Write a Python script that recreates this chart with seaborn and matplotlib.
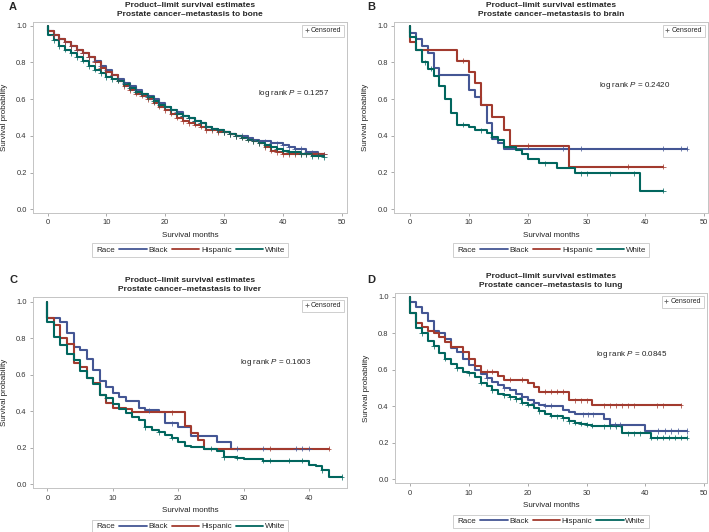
import numpy as np
import pandas as pd
import seaborn as sns
import matplotlib.pyplot as plt
from matplotlib.lines import Line2D

sns.set_style("white")
plt.rcParams['font.family'] = ['Liberation Sans', 'DejaVu Sans']
plt.rcParams['mathtext.fontset'] = 'custom'
plt.rcParams['mathtext.rm'] = 'Liberation Sans'
plt.rcParams['mathtext.it'] = 'Liberation Sans:italic'

RACES = ['Black', 'Hispanic', 'White']
COLORS = {'Black': '#445694', 'Hispanic': '#A23A2E', 'White': '#01665E'}

# A - metastasis to bone (monthly steps)
a_months = list(range(48))
a_black = [0.97, 0.95, 0.93, 0.91, 0.89, 0.87, 0.85, 0.83, 0.81, 0.78,
           0.76, 0.73, 0.71, 0.69, 0.67, 0.65, 0.63, 0.62, 0.60, 0.58,
           0.56, 0.54, 0.53, 0.51, 0.50, 0.48, 0.47, 0.45, 0.44, 0.43,
           0.42, 0.41, 0.40, 0.40, 0.39, 0.38, 0.37, 0.37, 0.36, 0.36,
           0.35, 0.34, 0.33, 0.33, 0.31, 0.31, 0.30, 0.30]
a_hisp = [0.97, 0.95, 0.93, 0.91, 0.89, 0.87, 0.85, 0.83, 0.80, 0.77,
          0.75, 0.73, 0.70, 0.67, 0.65, 0.63, 0.62, 0.60, 0.58, 0.56,
          0.54, 0.52, 0.50, 0.48, 0.47, 0.46, 0.45, 0.43, 0.43, 0.42,
          0.42, 0.41, 0.40, 0.39, 0.38, 0.37, 0.36, 0.34, 0.32, 0.31,
          0.30, 0.30, 0.30, 0.30, 0.30, 0.30, 0.30, 0.30]
a_white = [0.95, 0.92, 0.89, 0.87, 0.85, 0.83, 0.81, 0.78, 0.76, 0.74,
           0.72, 0.71, 0.70, 0.68, 0.66, 0.64, 0.63, 0.61, 0.59, 0.57,
           0.56, 0.54, 0.52, 0.51, 0.50, 0.48, 0.47, 0.45, 0.44, 0.43,
           0.42, 0.41, 0.40, 0.39, 0.38, 0.37, 0.36, 0.35, 0.34, 0.33,
           0.32, 0.31, 0.31, 0.30, 0.30, 0.29, 0.29, 0.285]
a_cens = list(range(1, 48))

# B - metastasis to brain
b_black_t = [0, 1, 2, 3, 4, 5, 10, 11, 12, 13, 14, 15, 16, 47]
b_black_s = [0.96, 0.93, 0.89, 0.85, 0.77, 0.73, 0.65, 0.61, 0.565, 0.47, 0.38, 0.36, 0.33, 0.33]
b_hisp_t = [0, 1, 8, 10, 11, 12, 14, 16, 17, 27, 43]
b_hisp_s = [0.91, 0.865, 0.81, 0.75, 0.69, 0.565, 0.50, 0.43, 0.345, 0.23, 0.23]
b_white_t = [0, 1, 2, 3, 4, 5, 6, 7, 8, 10, 11, 13, 14, 15, 16, 18, 19, 20, 22, 25, 28, 39, 43]
b_white_s = [0.94, 0.865, 0.80, 0.765, 0.725, 0.67, 0.60, 0.525, 0.46, 0.445, 0.43, 0.413,
             0.395, 0.375, 0.34, 0.32, 0.30, 0.275, 0.25, 0.225, 0.195, 0.10, 0.10]
b_black_c = [26, 29, 43, 46, 47]
b_hisp_c = [9, 20, 37, 43]
b_white_c = [2.5, 3.5, 9, 12, 14, 23, 29, 30, 34, 38, 43]

# C - metastasis to liver
c_black_t = [0, 2, 3, 4, 5, 6, 7, 8, 9, 10, 11, 12, 14, 15, 17, 18, 20, 22, 26, 28, 40]
c_black_s = [0.91, 0.887, 0.826, 0.754, 0.733, 0.684, 0.624, 0.567, 0.535, 0.50, 0.48, 0.455,
             0.415, 0.405, 0.395, 0.335, 0.315, 0.265, 0.23, 0.195, 0.195]
c_hisp_t = [0, 1, 2, 3, 4, 5, 6, 7, 8, 9, 10, 12, 13, 21, 22, 23, 24, 43]
c_hisp_s = [0.91, 0.87, 0.80, 0.766, 0.662, 0.64, 0.58, 0.553, 0.49, 0.447, 0.416, 0.41,
            0.395, 0.32, 0.28, 0.245, 0.195, 0.195]
c_white_t = [0, 1, 2, 3, 4, 5, 6, 7, 8, 9, 10, 11, 12, 13, 14, 15, 16, 17, 18, 19, 20, 21,
             22, 24, 26, 27, 29, 30, 33, 40, 41, 42, 43, 45]
c_white_s = [0.89, 0.805, 0.765, 0.715, 0.68, 0.62, 0.58, 0.55, 0.49, 0.47, 0.44, 0.41,
             0.39, 0.37, 0.35, 0.312, 0.30, 0.285, 0.27, 0.255, 0.23, 0.21, 0.205, 0.195,
             0.18, 0.148, 0.145, 0.14, 0.13, 0.106, 0.10, 0.078, 0.04, 0.04]
c_black_c = [15.5, 19, 29, 33, 38, 39, 40]
c_hisp_c = [19, 34, 43]
c_white_c = [9, 15, 17, 19, 25, 27, 29, 33, 34, 37, 39, 42, 45]

# D - metastasis to lung
d_black_t = [0, 1, 2, 3, 4, 5, 6, 7, 8, 9, 10, 11, 12, 13, 14, 15, 16, 17, 18, 19, 20,
             21, 22, 23, 26, 27, 28, 33, 34, 40, 47]
d_black_s = [0.973, 0.945, 0.912, 0.867, 0.814, 0.80, 0.768, 0.717, 0.70, 0.66, 0.626,
             0.60, 0.575, 0.555, 0.535, 0.515, 0.50, 0.49, 0.47, 0.45, 0.434, 0.42, 0.41,
             0.403, 0.38, 0.37, 0.356, 0.33, 0.30, 0.265, 0.265]
d_hisp_t = [0, 1, 2, 3, 4, 5, 6, 7, 9, 10, 11, 12, 15, 16, 20, 21, 22, 27, 31, 46]
d_hisp_s = [0.909, 0.854, 0.836, 0.81, 0.80, 0.78, 0.754, 0.726, 0.70, 0.66, 0.62, 0.59,
            0.566, 0.547, 0.53, 0.504, 0.48, 0.434, 0.405, 0.405]
d_white_t = [0, 1, 2, 3, 4, 5, 6, 7, 8, 9, 10, 11, 12, 13, 14, 15, 16, 17, 18, 19, 20,
             21, 22, 23, 24, 25, 26, 27, 28, 29, 30, 31, 32, 36, 41, 47]
d_white_s = [0.91, 0.83, 0.80, 0.76, 0.73, 0.69, 0.66, 0.63, 0.61, 0.59, 0.58, 0.56,
             0.53, 0.51, 0.49, 0.47, 0.46, 0.45, 0.44, 0.42, 0.41, 0.39, 0.375, 0.36,
             0.35, 0.345, 0.335, 0.32, 0.31, 0.305, 0.30, 0.295, 0.29, 0.252, 0.228, 0.228]
d_black_c = [13, 16, 19, 21, 23, 24, 29.4, 30.3, 31.1, 34.8, 35.7, 42.2, 43.3, 44.4, 45.6, 47]
d_hisp_c = [13, 14, 17, 19, 23, 24, 25, 26, 28, 29, 30, 33, 34, 35, 36, 37, 38, 42, 43, 46]
d_white_c = [2, 4, 6, 8, 10, 12, 14, 16, 17, 18, 19, 20, 22, 24, 25, 26, 27, 28, 29, 30,
             31, 33, 34, 35, 37, 38, 39, 41, 42, 43, 44, 45, 46, 47]

SITES = ['bone', 'brain', 'liver', 'lung']
P_VALUES = ['0.1257', '0.2420', '0.1603', '0.0845']
LETTERS = ['A', 'B', 'C', 'D']

curves = [
    {'Black': (a_months, a_black), 'Hispanic': (a_months, a_hisp), 'White': (a_months, a_white)},
    {'Black': (b_black_t, b_black_s), 'Hispanic': (b_hisp_t, b_hisp_s), 'White': (b_white_t, b_white_s)},
    {'Black': (c_black_t, c_black_s), 'Hispanic': (c_hisp_t, c_hisp_s), 'White': (c_white_t, c_white_s)},
    {'Black': (d_black_t, d_black_s), 'Hispanic': (d_hisp_t, d_hisp_s), 'White': (d_white_t, d_white_s)},
]
censors = [
    {'Black': a_cens, 'Hispanic': a_cens, 'White': a_cens},
    {'Black': b_black_c, 'Hispanic': b_hisp_c, 'White': b_white_c},
    {'Black': c_black_c, 'Hispanic': c_hisp_c, 'White': c_white_c},
    {'Black': d_black_c, 'Hispanic': d_hisp_c, 'White': d_white_c},
]


def km_frame(cv):
    parts = []
    for race in RACES:
        t, s = cv[race]
        parts.append(pd.DataFrame({'time': [0] + list(t), 'surv': [1.0] + list(s), 'race': race}))
    return pd.concat(parts, ignore_index=True)


def censor_frame(cv, cens):
    parts = []
    for race in RACES:
        t, s = cv[race]
        times = np.array(cens[race], dtype=float)
        idx = np.searchsorted(t, times, side='right') - 1
        parts.append(pd.DataFrame({'time': times, 'surv': np.array(s)[idx], 'race': race}))
    return pd.concat(parts, ignore_index=True)


# layout in figure fractions (left, bottom, width, height) and limits
axes_pos = [(0.0465, 0.5996, 0.4429, 0.3596), (0.5561, 0.6002, 0.4420, 0.3590),
            (0.0465, 0.0821, 0.4429, 0.3602), (0.5571, 0.0915, 0.4396, 0.3583)]
xlims = [(-2.5, 50.9), (-2.67, 50.57), (-2.2, 45.8), (-2.55, 50.4)]
ylims = [(-0.02, 1.022), (-0.02, 1.022), (-0.022, 1.027), (-0.021, 1.022)]
xticks = [np.arange(0, 51, 10), np.arange(0, 51, 10), np.arange(0, 41, 10), np.arange(0, 51, 10)]
ptext_pos = [(35.8, 0.633), (32.1, 0.673), (29.5, 0.668), (31.6, 0.685)]
letter_pos = [(9, 7), (367, 7), (10, 280), (367, 280)]
leg_y = [-0.193, -0.195, -0.20, -0.20]

fig = plt.figure(figsize=(7.09, 5.32), dpi=100)

for i in range(4):
    ax = fig.add_axes(axes_pos[i])
    df = km_frame(curves[i])
    cdf = censor_frame(curves[i], censors[i])
    sns.lineplot(data=df, x='time', y='surv', hue='race', palette=COLORS, hue_order=RACES,
                 drawstyle='steps-post', estimator=None, sort=False, lw=1.5, ax=ax, legend=False)
    sns.scatterplot(data=cdf, x='time', y='surv', hue='race', palette=COLORS, hue_order=RACES,
                    marker='+', s=14, linewidth=0.7, alpha=0.75, ax=ax, legend=False, zorder=3)

    ax.set_xlim(xlims[i])
    ax.set_ylim(ylims[i])
    ax.set_xticks(xticks[i])
    ax.set_yticks(np.arange(0, 1.01, 0.2))
    ax.set_yticklabels([f"{v:.1f}" for v in np.arange(0, 1.01, 0.2)])
    ax.tick_params(axis='both', labelsize=5.4, length=2.5, width=0.5, color='#888888',
                   labelcolor='#333333', pad=2, direction='out', bottom=True, left=True)
    for sp in ax.spines.values():
        sp.set_color('#c4c4c4')
        sp.set_linewidth(0.7)

    ax.set_xlabel('Survival months', fontsize=5.8, color='#222222')
    ax.set_ylabel('Survival probability', fontsize=5.8, color='#222222')
    ax.xaxis.set_label_coords(0.5, -0.10)
    ax.yaxis.set_label_coords(-0.08, 0.5)
    ax.set_title(f"Product\u2013limit survival estimates\nProstate cancer\u2013metastasis to {SITES[i]}",
                 fontsize=6.0, fontweight='bold', pad=4, linespacing=1.4)

    ax.text(ptext_pos[i][0], ptext_pos[i][1], f"log rank $P$ = {P_VALUES[i]}",
            fontsize=5.8, va='center', ha='left', color='#222222')

    cens_leg = ax.legend([Line2D([], [], marker='+', ls='none', color='#666666', ms=3, mew=0.6)],
                         ['Censored'], loc='upper right', fontsize=5.0, handlelength=0.6,
                         handletextpad=0.3, borderpad=0.35, borderaxespad=0.45, frameon=True,
                         fancybox=False, edgecolor='#c8c8c8', framealpha=1)
    cens_leg.get_frame().set_linewidth(0.6)
    ax.add_artist(cens_leg)

    handles = [Line2D([], [], color='none')] + [Line2D([], [], color=COLORS[r], lw=1.3) for r in RACES]
    race_leg = ax.legend(handles, ['Race'] + RACES, loc='center', bbox_to_anchor=(0.5, leg_y[i]),
                         ncol=4, fontsize=5.8, handlelength=3.4, handletextpad=0.2,
                         columnspacing=0.5, borderpad=0.35, frameon=True, fancybox=False,
                         edgecolor='#c8c8c8', framealpha=1)
    race_leg.get_frame().set_linewidth(0.6)
    # drop the empty handle slot in front of "Race"
    first_item = race_leg._legend_handle_box.get_children()[0].get_children()[0]
    first_item.get_children()[0].width = 0

    fig.text(letter_pos[i][0] / 709, 1 - letter_pos[i][1] / 532, LETTERS[i],
             fontsize=8, fontweight='bold', ha='left', va='center')

fig.savefig('out.png', dpi=100)
